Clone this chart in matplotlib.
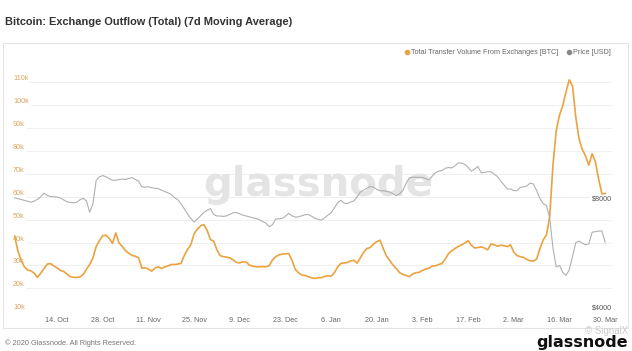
import matplotlib
matplotlib.use("Agg")
import matplotlib.pyplot as plt
import matplotlib.transforms as mtrans
from matplotlib.lines import Line2D
from matplotlib.patches import Rectangle
import pandas as pd

plt.rcParams['font.family'] = ['Liberation Sans', 'DejaVu Sans']

# daily values from 1 Oct 2019
start = "2019-10-01"
outflow_k = [
    42.8, 36.3, 32.3, 29.3, 28.0, 27.6, 26.6, 24.8, 26.6, 28.6,
    30.6, 30.8, 29.8, 29.0, 27.8, 27.4, 26.3, 25.1, 24.8, 24.8,
    24.9, 26.0, 28.3, 30.4, 33.3, 38.3, 40.8, 43.0, 43.2, 41.8,
    39.6, 44.2, 39.8, 38.3, 36.4, 35.3, 34.4, 34.0, 33.3, 28.8,
    29.0, 28.4, 27.5, 28.8, 29.4, 28.7, 29.3, 29.8, 30.4, 30.4,
    30.6, 30.9, 34.3, 37.0, 39.0, 43.8, 45.8, 47.3, 47.8, 45.3,
    41.3, 40.6, 36.8, 34.3, 33.8, 33.6, 33.3, 32.4, 31.3, 31.1,
    31.6, 31.4, 30.1, 29.7, 29.4, 29.4, 29.5, 29.4, 29.8, 32.3,
    33.8, 34.6, 34.9, 35.1, 35.2, 32.3, 28.3, 26.8, 25.8, 25.6,
    25.1, 24.6, 24.3, 24.6, 24.6, 25.2, 25.5, 25.3, 26.8, 29.3,
    30.9, 31.1, 31.3, 32.0, 32.2, 31.0, 33.4, 35.8, 37.4, 37.8,
    39.3, 40.4, 41.0, 37.3, 34.0, 32.1, 30.1, 28.6, 26.8, 26.1,
    25.6, 25.1, 26.3, 26.8, 27.0, 27.8, 28.4, 28.8, 29.7, 29.8,
    30.4, 30.9, 32.8, 35.2, 36.4, 37.4, 38.3, 39.0, 39.8, 40.8,
    38.8, 37.6, 37.8, 38.1, 37.6, 36.8, 39.4, 39.0, 38.4, 38.8,
    38.6, 38.2, 39.0, 35.8, 34.3, 33.8, 33.5, 32.6, 32.0, 31.9,
    32.8, 37.3, 41.1, 43.3, 51.3, 73.8, 88.8, 95.6, 99.8, 105.8,
    111.1, 108.3, 94.8, 85.3, 80.6, 77.8, 73.8, 78.8, 75.3, 67.8,
    61.3, 61.4,
]
price_usd = [
    8210, 8170, 8130, 8080, 8040, 7990, 8040, 8140, 8270, 8460,
    8350, 8280, 8270, 8260, 8210, 8110, 8020, 7980, 7960, 7980,
    8110, 8190, 8060, 7500, 7900, 9180, 9390, 9460, 9390, 9280,
    9180, 9190, 9230, 9250, 9230, 9290, 9340, 9230, 9130, 8810,
    8790, 8810, 8760, 8730, 8710, 8630, 8550, 8480, 8390, 8230,
    8120, 7910, 7670, 7410, 7210, 7040, 7180, 7330, 7490, 7590,
    7670, 7390, 7320, 7320, 7300, 7330, 7400, 7470, 7480, 7420,
    7360, 7320, 7280, 7230, 7210, 7150, 7070, 7000, 6840, 6920,
    7180, 7190, 7210, 7310, 7440, 7330, 7270, 7280, 7330, 7380,
    7390, 7310, 7220, 7170, 7130, 7230, 7360, 7470, 7700, 7960,
    8090, 7940, 7920, 8000, 8060, 8270, 8530, 8630, 8740, 8830,
    8790, 8670, 8590, 8590, 8560, 8520, 8430, 8330, 8430, 8610,
    9010, 9330, 9360, 9360, 9360, 9350, 9280, 9200, 9430, 9640,
    9730, 9770, 9910, 9960, 9930, 10070, 10260, 10230, 10160, 9960,
    9730, 9860, 10030, 9630, 9650, 9700, 9690, 9540, 9400, 9130,
    8920, 8690, 8690, 8600, 8600, 8780, 8810, 8860, 9020, 8970,
    8600, 8180, 7920, 7820, 7230, 5980, 5300, 5350, 5120, 5020,
    5200, 5660, 6180, 6240, 6160, 6100, 6130, 6600, 6630, 6650,
    6660, 6200,
]
left_ticks = [10, 20, 30, 40, 50, 60, 70, 80, 90, 100, 110]
right_ticks = [4000, 8000]
tick_dates = ["2019-10-14", "2019-10-28", "2019-11-11", "2019-11-25", "2019-12-09",
              "2019-12-23", "2020-01-06", "2020-01-20", "2020-02-03", "2020-02-17",
              "2020-03-02", "2020-03-16", "2020-03-30"]
tick_labels = ["14. Oct", "28. Oct", "11. Nov", "25. Nov", "9. Dec", "23. Dec", "6. Jan",
               "20. Jan", "3. Feb", "17. Feb", "2. Mar", "16. Mar", "30. Mar"]

dates = pd.date_range(start, periods=len(outflow_k), freq="D")
orange = "#eba23f"
grey = "#b0b0b0"

fig = plt.figure(figsize=(6.32, 3.51), dpi=100)
fig.add_artist(Rectangle((3 / 632, 1 - 328 / 351), 625 / 632, 285 / 351,
                         transform=fig.transFigure, fill=False, edgecolor="#e4e4e4", lw=0.8))

ax = fig.add_axes([13 / 632, 1 - 311.2 / 351, 599 / 632, 239.2 / 351])
ax2 = ax.twinx()
for a in (ax, ax2):
    for s in a.spines.values():
        s.set_visible(False)
    a.tick_params(length=0)
ax.set_facecolor("none")

ax.plot(dates, [v * 1000 for v in outflow_k], color=orange, lw=1.2, zorder=3)
ax2.plot(dates, price_usd, color=grey, lw=0.8)

t0 = pd.Timestamp(start)
ax.set_xlim(t0 - pd.Timedelta(hours=12), t0 + pd.Timedelta(days=183.1))
ax.set_ylim(10000, 114500)
ax2.set_yscale("log")
ax2.set_ylim(4000, 18260)
ax.set_yticks([])
ax2.set_yticks([])
ax2.set_yticks([], minor=True)

ax.set_xticks(pd.to_datetime(tick_dates))
ax.set_xticklabels(tick_labels, fontsize=5.2, color="#666666")
ax.tick_params(axis="x", pad=4)

for v in left_ticks:
    ax.axhline(v * 1000, color="#ececec", lw=0.6, zorder=0)
    ax.annotate(f"{v}k", xy=(0, v * 1000), xycoords=("axes fraction", "data"),
                xytext=(0, 2.5), textcoords="offset points", fontsize=5.2, color="#dba460",
                va="center", ha="left", zorder=1,
                bbox=dict(boxstyle="square,pad=0.25", fc="white", ec="none"))

right_tr = mtrans.blended_transform_factory(ax.transAxes, ax2.transData)
for p in right_ticks:
    ax.annotate(f"${p}", xy=(1, p), xycoords=right_tr,
                xytext=(0, 2.5), textcoords="offset points", fontsize=5.2, color="#555555",
                va="center", ha="right", zorder=1,
                bbox=dict(boxstyle="square,pad=0.25", fc="white", ec="none"))

ax.text(0.509, 0.528, "glassnode", transform=ax.transAxes, fontsize=29,
        family="DejaVu Sans", fontweight="bold", color="#e4e4e4",
        ha="center", va="center", zorder=0.5)

fig.text(5 / 632, 1 - 22 / 351, "Bitcoin: Exchange Outflow (Total) (7d Moving Average)",
         fontsize=7.9, fontweight="bold", color="#333333", va="center", ha="left")

# legend
fig.add_artist(Line2D([407 / 632], [1 - 52 / 351], marker="o", ms=3, color=orange,
                      transform=fig.transFigure))
fig.text(411 / 632, 1 - 52 / 351, "Total Transfer Volume From Exchanges [BTC]",
         fontsize=5.2, color="#666666", va="center", ha="left")
fig.add_artist(Line2D([569 / 632], [1 - 52 / 351], marker="o", ms=3, color="#888888",
                      transform=fig.transFigure))
fig.text(573 / 632, 1 - 52 / 351, "Price [USD]",
         fontsize=5.2, color="#666666", va="center", ha="left")

fig.text(5 / 632, 1 - 343 / 351, "\u00a9 2020 Glassnode. All Rights Reserved.",
         fontsize=5.3, color="#777777", va="center", ha="left")
fig.text(628 / 632, 1 - 331 / 351, "\u00a9 SignalX", fontsize=7, color="#cccccc",
         va="center", ha="right")
fig.text(628 / 632, 1 - 343 / 351, "glassnode", fontsize=11.5, fontweight="bold",
         family="DejaVu Sans", color="#111111", va="center", ha="right")

fig.savefig("out.png", dpi=100)
